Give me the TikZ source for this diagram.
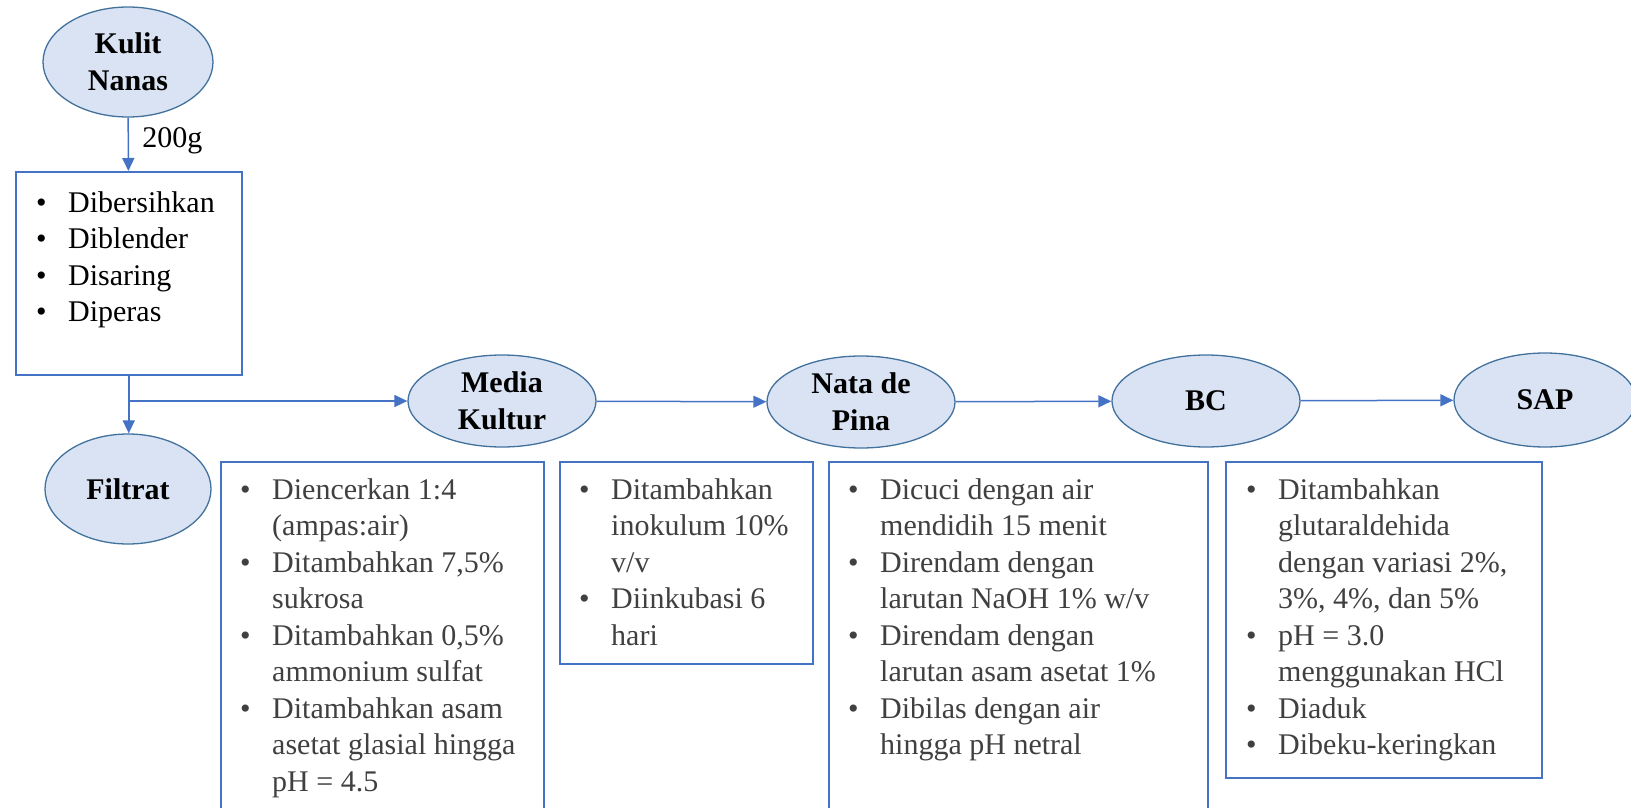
\documentclass[tikz,border=0pt]{standalone}
\usepackage{fontspec}
\setmainfont{Liberation Serif}
\usetikzlibrary{arrows.meta,positioning,shapes.geometric}
\definecolor{isiElips}{HTML}{DAE3F3}
\definecolor{garisElips}{HTML}{41719C}
\definecolor{garisBiru}{HTML}{4472C4}
\definecolor{teksAbu}{HTML}{404040}
\newcommand{\bul}{\makebox[32pt][l]{\textbullet}}
\newcommand{\ind}{\hspace*{32pt}}

\begin{document}
\begin{tikzpicture}[x=1pt,y=-1pt,
  proses/.style={ellipse,draw=garisElips,line width=1.3pt,fill=isiElips,inner sep=0pt,
    align=center,font=\fontsize{30}{37}\selectfont\bfseries},
  kotak/.style={draw=garisBiru,line width=1.5pt,anchor=north west,inner sep=0pt},
  daftar/.style={anchor=north west,inner sep=0pt,align=left,text=teksAbu,
    font=\fontsize{30}{36.5}\selectfont},
  panah/.style={draw=garisBiru,line width=1.5pt,-{Triangle[length=13pt,width=12pt]}}]
  \useasboundingbox (0,0) rectangle (1631,808);

  \node[proses,minimum width=170pt,minimum height=110pt] (kulit) at (128,62) {Kulit\\Nanas};
  \node[kotak,minimum width=226pt,minimum height=203pt] (b1) at (15,171) {};
  \node[proses,minimum width=166pt,minimum height=110pt] (filtrat) at (128,489) {Filtrat};
  \node[proses,minimum width=188pt,minimum height=92pt] (media) at (502,401) {Media\\Kultur};
  \node[proses,minimum width=188pt,minimum height=92pt] (nata) at (861,402) {Nata de\\Pina};
  \node[proses,minimum width=188pt,minimum height=92pt] (bc) at (1206,401) {BC};
  \node[proses,minimum width=182pt,minimum height=94pt] (sap) at (1545,400) {SAP};

  \node[kotak,minimum width=323pt,minimum height=360pt] (b2) at (220,461) {};
  \node[kotak,minimum width=253pt,minimum height=202pt] (b3) at (559,461) {};
  \node[kotak,minimum width=379pt,minimum height=360pt] (b4) at (828,461) {};
  \node[kotak,minimum width=316pt,minimum height=316pt] (b5) at (1225,461) {};

  \node[daftar,text=black] (t1) at ([shift={(21,20)}]b1.north west)
    {\bul Dibersihkan\\ \bul Diblender\\ \bul Disaring\\ \bul Diperas};
  \node[daftar] (t2) at ([shift={(20,17)}]b2.north west)
    {\bul Diencerkan 1:4\\ \ind (ampas:air)\\
     \bul Ditambahkan 7,5\%\\ \ind sukrosa\\
     \bul Ditambahkan 0,5\%\\ \ind ammonium sulfat\\
     \bul Ditambahkan asam\\ \ind asetat glasial hingga\\ \ind pH = 4.5};
  \node[daftar] (t3) at ([shift={(20,17)}]b3.north west)
    {\bul Ditambahkan\\ \ind inokulum 10\%\\ \ind v/v\\
     \bul Diinkubasi 6\\ \ind hari};
  \node[daftar] (t4) at ([shift={(20,17)}]b4.north west)
    {\bul Dicuci dengan air\\ \ind mendidih 15 menit\\
     \bul Direndam dengan\\ \ind larutan NaOH 1\% w/v\\
     \bul Direndam dengan\\ \ind larutan asam asetat 1\%\\
     \bul Dibilas dengan air\\ \ind hingga pH netral};
  \node[daftar] (t5) at ([shift={(21,17)}]b5.north west)
    {\bul Ditambahkan\\ \ind glutaraldehida\\ \ind dengan variasi 2\%,\\ \ind 3\%, 4\%, dan 5\%\\
     \bul pH = 3.0\\ \ind menggunakan HCl\\
     \bul Diaduk\\ \bul Dibeku-keringkan};

  \draw[panah] (kulit) -- (b1) node[pos=0.43,right=10pt,font=\fontsize{30}{36}\selectfont] (berat) {200g};
  \draw[panah] (b1.south) -- (b1.south |- filtrat.north);
  \coordinate (cabang) at (b1.south |- media.west);
  \draw[panah] (cabang) -- (media.west);
  \draw[panah] (media) -- (nata);
  \draw[panah] (nata) -- (bc);
  \draw[panah] (bc) -- (sap);
\end{tikzpicture}
\end{document}
